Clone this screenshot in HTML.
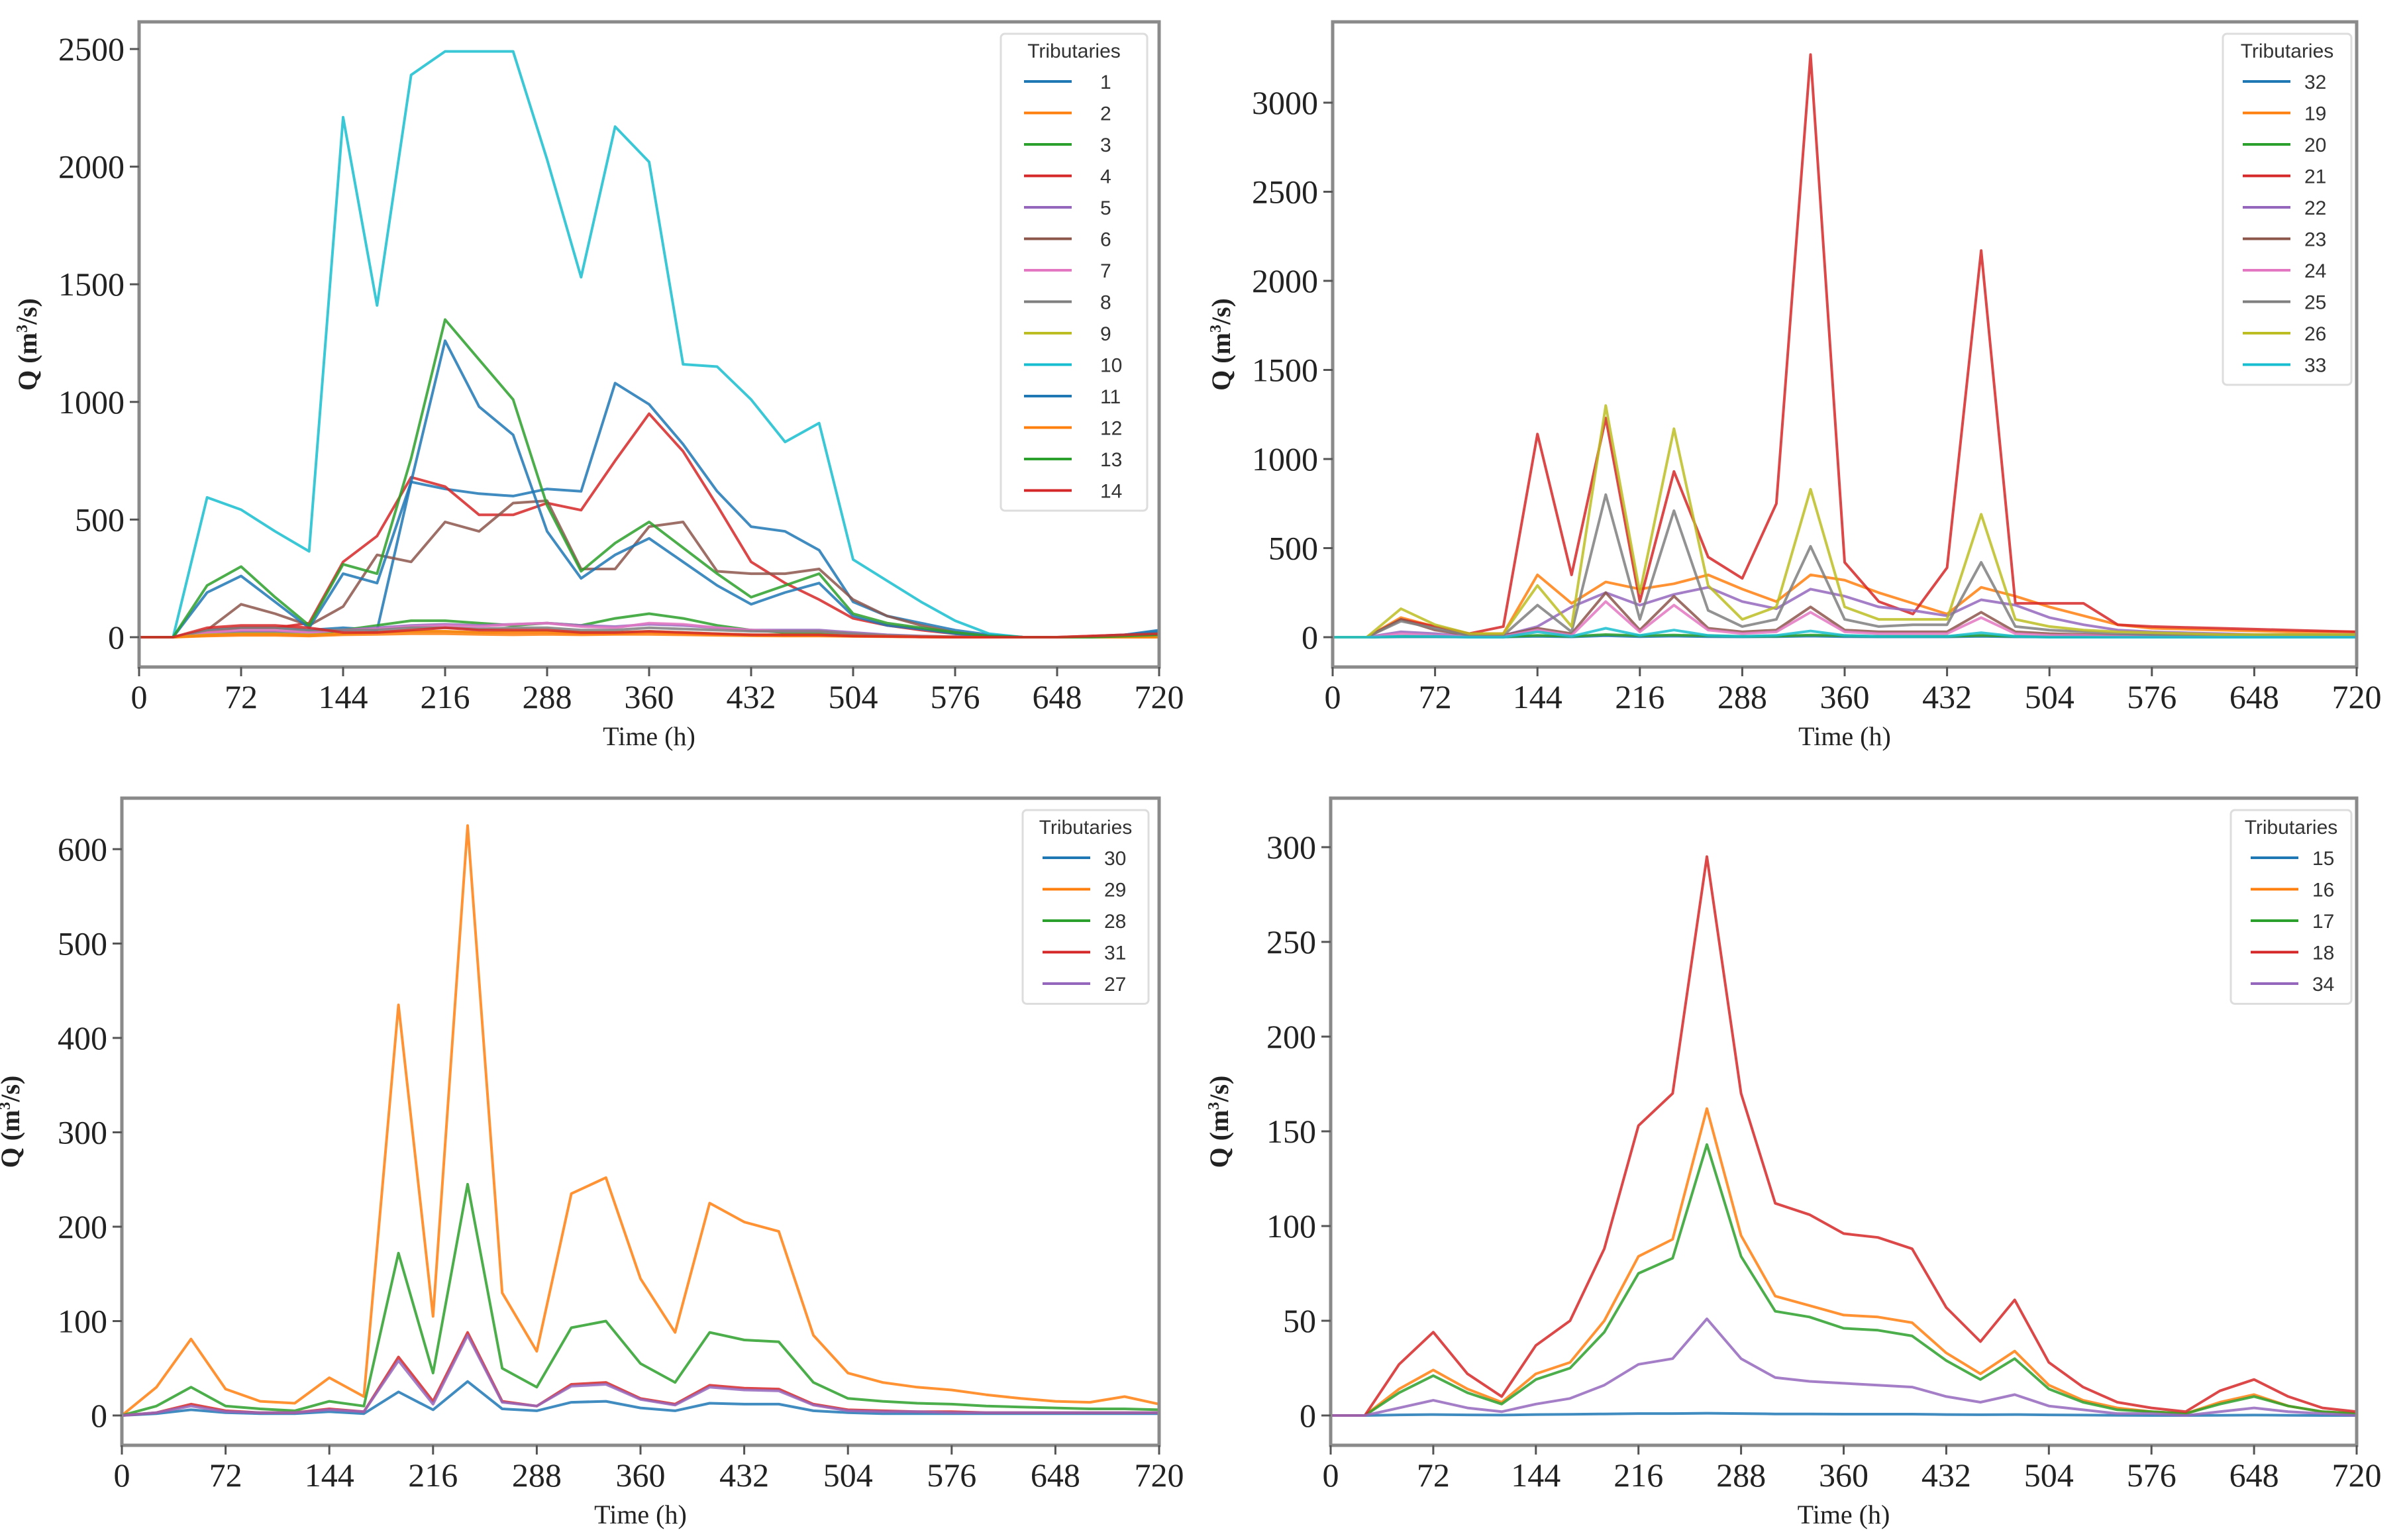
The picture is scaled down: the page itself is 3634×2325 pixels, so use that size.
<!DOCTYPE html>
<html><head><meta charset="utf-8"><style>
html,body{margin:0;padding:0;background:#fff;}
svg{display:block;}
.tick{font-family:"Liberation Serif",serif;font-size:50px;fill:#222;}
.axl{font-family:"Liberation Serif",serif;font-size:40px;fill:#222;}
.leg{font-family:"Liberation Sans",sans-serif;font-size:30px;fill:#333;}
</style></head><body>
<svg id="fig" width="3634" height="2325" viewBox="0 0 3634 2325" xmlns="http://www.w3.org/2000/svg"></svg>
<script>
// ---- data ----
const times = [0,24,48,72,96,120,144,168,192,216,240,264,288,312,336,360,384,408,432,456,480,504,528,552,576,600,624,648,672,696,720];
const xTicks = [0,72,144,216,288,360,432,504,576,648,720];
// Panel A (tributaries 1-14)
const tribA = ["1","2","3","4","5","6","7","8","9","10","11","12","13","14"];
const qA1  = [0,0,30,40,40,30,40,30,660,630,610,600,630,620,1080,990,820,620,470,450,370,150,90,60,30,10,0,0,0,10,30];
const qA2  = [0,0,5,8,8,5,10,12,15,15,12,10,12,10,12,12,10,8,6,5,5,3,2,1,0,0,0,0,0,0,0];
const qA3  = [0,0,10,20,20,10,30,50,70,70,60,50,60,50,80,100,80,50,30,20,20,10,5,3,1,0,0,0,0,0,0];
const qA4  = [0,0,20,40,40,60,320,430,680,640,520,520,570,540,750,950,790,560,320,230,160,80,50,30,15,5,0,0,5,10,15];
const qA5  = [0,0,15,25,25,20,30,40,50,55,50,55,60,50,45,55,50,40,30,30,30,20,10,5,2,0,0,0,0,0,0];
const qA6  = [0,0,30,140,100,50,130,350,320,490,450,570,580,290,290,470,490,280,270,270,290,160,90,50,20,5,0,0,0,5,10];
const qA7  = [0,0,20,30,30,20,30,35,45,50,45,55,60,45,40,60,55,40,30,25,25,15,8,4,2,0,0,0,0,0,0];
const qA8  = [0,0,30,40,40,30,30,30,40,40,35,40,40,30,30,40,35,30,25,25,25,15,8,4,2,0,0,0,0,0,0];
const qA9  = [0,0,10,15,15,10,15,20,25,25,20,25,25,20,20,25,20,15,10,10,10,5,3,1,0,0,0,0,0,0,0];
const qA10 = [0,0,594,542,450,365,2210,1410,2390,2490,2490,2490,2030,1530,2170,2020,1160,1150,1010,830,910,330,240,150,70,15,0,0,0,10,20];
const qA11 = [0,0,190,260,150,40,270,230,660,1260,980,860,450,250,350,420,320,220,140,190,230,90,50,35,15,5,0,0,0,10,25];
const qA12 = [0,0,8,12,12,8,15,20,25,25,20,20,20,15,15,20,15,12,10,8,8,5,3,1,0,0,0,0,0,0,0];
const qA13 = [0,0,220,300,170,50,310,270,760,1350,1180,1010,560,280,400,490,380,270,170,220,270,100,60,40,20,5,0,0,0,5,10];
const qA14 = [0,0,40,50,50,40,20,20,30,40,30,30,30,20,20,25,20,15,10,10,10,5,3,1,0,0,0,0,5,10,15];
// Panel B (tributaries 32,19-26,33)
const tribB = ["32","19","20","21","22","23","24","25","26","33"];
const qB32 = [0,0,2,2,1,1,5,2,8,3,6,3,2,3,6,3,2,2,2,5,2,1,1,1,1,1,1,1,1,1,1];
const qB19 = [0,0,110,60,20,20,350,190,310,270,300,350,270,200,350,320,250,190,130,280,230,170,120,70,50,45,40,35,30,30,30];
const qB20 = [0,0,5,5,2,2,10,5,15,8,12,8,5,6,12,8,5,5,5,10,5,3,3,3,3,3,3,3,3,3,3];
const qB21 = [0,0,100,60,20,60,1140,350,1230,200,930,450,330,750,3270,420,200,130,390,2170,190,190,190,70,60,55,50,45,40,35,30];
const qB22 = [0,0,30,20,5,10,60,170,250,180,240,280,200,160,270,230,170,150,120,210,180,110,70,40,30,25,20,15,15,15,15];
const qB23 = [0,0,100,40,10,10,50,20,250,40,230,50,30,40,170,40,30,30,30,140,30,20,15,10,10,10,10,10,10,10,10];
const qB24 = [0,0,20,10,5,5,40,10,200,30,180,40,20,30,140,30,20,20,20,110,20,10,10,5,5,5,5,5,5,5,5];
const qB25 = [0,0,90,50,10,10,180,30,800,100,710,150,60,100,510,100,60,70,70,420,60,40,30,20,15,10,10,10,10,10,10];
const qB26 = [0,0,160,70,20,20,290,60,1300,250,1170,290,100,170,830,170,100,100,100,690,100,60,40,30,25,20,15,15,15,15,15];
const qB33 = [0,0,5,5,0,0,30,5,50,10,40,10,5,10,35,10,5,5,5,25,5,0,0,0,0,0,0,0,0,0,0];
// Panel C (tributaries 30,29,28,31,27)
const tribC = ["30","29","28","31","27"];
const qC30 = [0,2,6,3,2,2,4,2,25,6,36,7,5,14,15,8,5,13,12,12,5,3,2,2,2,2,2,2,2,2,2];
const qC29 = [0,30,81,28,15,13,40,20,435,105,625,130,68,235,252,145,88,225,205,195,85,45,35,30,27,22,18,15,14,20,12];
const qC28 = [0,10,30,10,7,5,15,10,172,45,245,50,30,93,100,55,35,88,80,78,35,18,15,13,12,10,9,8,7,7,6];
const qC31 = [0,3,12,5,3,3,7,4,62,15,88,15,10,33,35,18,12,32,29,28,12,6,5,4,4,3,3,3,3,3,3];
const qC27 = [0,3,10,4,3,3,6,4,58,12,85,14,10,31,33,17,11,30,27,26,11,5,4,4,3,3,3,3,3,3,3];
// Panel D (tributaries 15,16,17,18,34)
const tribD = ["15","16","17","18","34"];
const qD15 = [0,0,0.3,0.5,0.3,0.2,0.5,0.6,0.8,1,1,1.2,1,0.8,0.8,0.7,0.7,0.7,0.5,0.4,0.5,0.3,0.2,0.1,0,0,0.1,0.2,0.1,0,0];
const qD16 = [0,0,14,24,14,7,22,28,50,84,93,162,95,63,58,53,52,49,33,22,34,16,8,4,2,1,7,11,5,2,1];
const qD17 = [0,0,12,21,12,6,19,25,44,75,83,143,84,55,52,46,45,42,29,19,30,14,7,3,2,1,6,10,5,2,1];
const qD18 = [0,0,27,44,22,10,37,50,88,153,170,295,170,112,106,96,94,88,57,39,61,28,15,7,4,2,13,19,10,4,2];
const qD34 = [0,0,4,8,4,2,6,9,16,27,30,51,30,20,18,17,16,15,10,7,11,5,3,1,1,0,2,4,2,1,0];
const yTicksA = [0,500,1000,1500,2000,2500];
const yTicksB = [0,500,1000,1500,2000,2500,3000];
const yTicksC = [0,100,200,300,400,500,600];
const yTicksD = [0,50,100,150,200,250,300];

const pal = ["#1f77b4","#ff7f0e","#2ca02c","#d62728","#9467bd","#8c564b","#e377c2","#7f7f7f","#bcbd22","#17becf"];
const NS = "http://www.w3.org/2000/svg";
const fig = document.getElementById('fig');
function mk(tag, attrs, parent){const e=document.createElementNS(NS,tag);for(const k in attrs)e.setAttribute(k,attrs[k]);(parent||fig).appendChild(e);return e;}

const panels = [
 {id:"top-left",  L:210, R:1750, T:33,  B:1007, y0:962,  yRef:2500, yRefPix:74,  yt:yTicksA, names:tribA, series:[qA1,qA2,qA3,qA4,qA5,qA6,qA7,qA8,qA9,qA10,qA11,qA12,qA13,qA14], colors:[0,1,2,3,4,5,6,7,8,9,0,1,2,3], legX:1511, legW:221, lo:35, to:150},
 {id:"top-right", L:2012,R:3558, T:33,  B:1007, y0:962,  yRef:3000, yRefPix:155, yt:yTicksB, names:tribB, series:[qB32,qB19,qB20,qB21,qB22,qB23,qB24,qB25,qB26,qB33], colors:[0,1,2,3,4,5,6,7,8,9], legX:3356, legW:194, lo:30, to:123},
 {id:"bottom-left",L:184,R:1750, T:1205,B:2182, y0:2137, yRef:600,  yRefPix:1282, yt:yTicksC, names:tribC, series:[qC30,qC29,qC28,qC31,qC27], colors:[0,1,2,3,4], legX:1544, legW:190, lo:30, to:123},
 {id:"bottom-right",L:2009,R:3558,T:1205,B:2182, y0:2137, yRef:300,  yRefPix:1279, yt:yTicksD, names:tribD, series:[qD15,qD16,qD17,qD18,qD34], colors:[0,1,2,3,4], legX:3368, legW:182, lo:30, to:123}
];

panels.forEach(p=>{
  const g = mk('g',{});
  
  
  const xs = t => p.L + (t/720)*(p.R-p.L);
  const ys = v => p.y0 - v*(p.y0-p.yRefPix)/p.yRef;
  const cid = 'clip-'+p.id;
  const cp = mk('clipPath',{id:cid},g);
  mk('rect',{x:p.L,y:p.T,width:p.R-p.L,height:p.B-p.T},cp);
  const sg = mk('g',{'clip-path':'url(#'+cid+')'},g);
  p.series.forEach((s,i)=>{
    const d = s.map((v,j)=>(j?'L':'M')+xs(times[j]).toFixed(1)+' '+ys(v).toFixed(1)).join(' ');
    const path = mk('path',{d:d,fill:'none',stroke:pal[p.colors[i]],'stroke-width':4,'stroke-linejoin':'round','stroke-opacity':0.85},sg);
    
    
  });
  const fr = mk('rect',{x:p.L,y:p.T,width:p.R-p.L,height:p.B-p.T,fill:'none',stroke:'#8a8a8a','stroke-width':5},g);
  
  
  xTicks.forEach(t=>{
    const x=xs(t);
    mk('line',{x1:x,y1:p.B,x2:x,y2:p.B+14,stroke:'#555','stroke-width':3},g);
    const tx=mk('text',{x:x,y:p.B+62,'text-anchor':'middle',class:'tick'},g);
    tx.textContent=t;
    
    
  });
  p.yt.forEach(v=>{
    const y=ys(v);
    mk('line',{x1:p.L-14,y1:y,x2:p.L,y2:y,stroke:'#555','stroke-width':3},g);
    const ty=mk('text',{x:p.L-22,y:y+17,'text-anchor':'end',class:'tick'},g);
    ty.textContent=v;
    
    
  });
  const xl=mk('text',{x:(p.L+p.R)/2,y:p.B+118,'text-anchor':'middle',class:'axl'},g);
  xl.textContent='Time (h)';
  
  
  const yc=(p.T+p.B)/2, yx=p.L-155;
  const yl=mk('text',{x:yx,y:yc,'text-anchor':'middle',class:'axl',transform:'rotate(-90 '+yx+' '+yc+')','font-weight':'bold'},g);
  yl.innerHTML='Q (m<tspan font-size="24" dy="-14">3</tspan><tspan dy="14">/s)</tspan>';
  
  
  const lg=mk('g',{},g);
  
  
  const lt=p.T+18, n=p.names.length, h=55+n*47.5;
  mk('rect',{x:p.legX,y:lt,width:p.legW,height:h,rx:6,fill:'#fff',stroke:'#ddd','stroke-width':3},lg);
  const tt=mk('text',{x:p.legX+p.legW/2,y:lt+36,'text-anchor':'middle',class:'leg'},lg);
  tt.textContent='Tributaries';
  
  
  p.names.forEach((nm,i)=>{
    const y=lt+72+i*47.5;
    const e=mk('g',{},lg);
    
    
    mk('line',{x1:p.legX+p.lo,y1:y,x2:p.legX+p.lo+72,y2:y,stroke:pal[p.colors[i]],'stroke-width':4},e);
    const t=mk('text',{x:p.legX+p.to,y:y+11,class:'leg'},e);
    t.textContent=nm;
  });
});
</script>
</body></html>
